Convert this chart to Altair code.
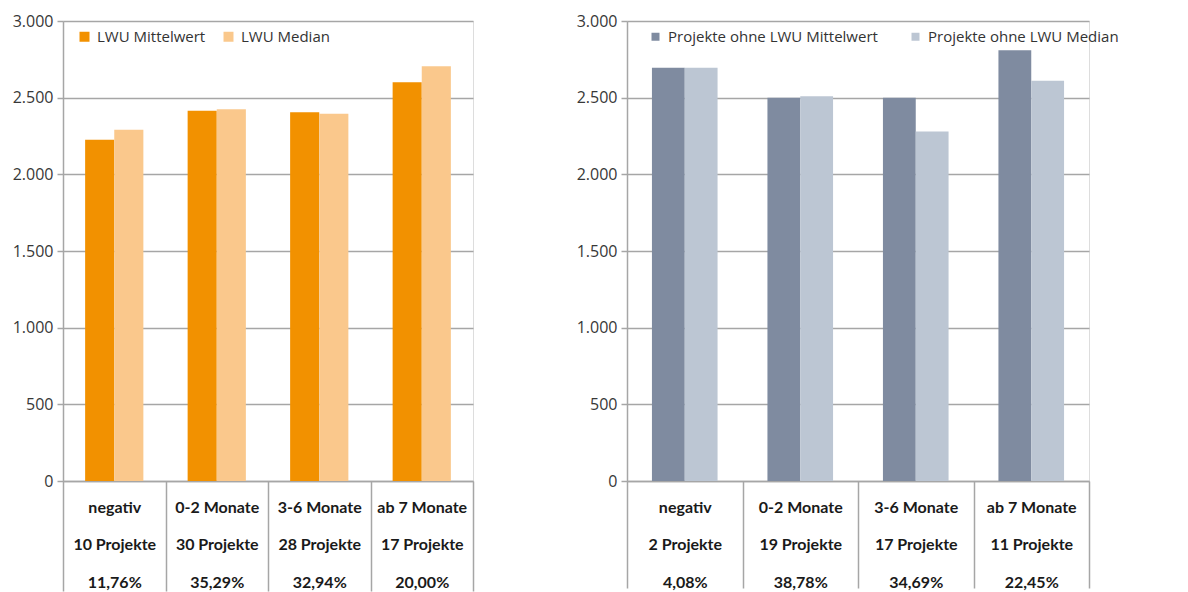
import altair as alt
import pandas as pd

# Kategorien der Projektdauer-Abweichung
kategorien = ["negativ", "0-2 Monate", "3-6 Monate", "ab 7 Monate"]

# Projekte mit LWU
lwu_projekte = ["10 Projekte", "30 Projekte", "28 Projekte", "17 Projekte"]
lwu_anteile = ["11,76%", "35,29%", "32,94%", "20,00%"]
lwu_mittelwert = [2225, 2415, 2405, 2600]
lwu_median = [2290, 2425, 2395, 2705]

# Projekte ohne LWU
ohne_projekte = ["2 Projekte", "19 Projekte", "17 Projekte", "11 Projekte"]
ohne_anteile = ["4,08%", "38,78%", "34,69%", "22,45%"]
ohne_mittelwert = [2695, 2500, 2500, 2810]
ohne_median = [2695, 2510, 2280, 2610]

y_ticks = [0, 500, 1000, 1500, 2000, 2500, 3000]

GRAU = "#A6A6A6"


def panel(projekte, anteile, mittel, median, namen, farben, breite, hoehe,
          leg_x, leg_y, leg_pad, sym_size, tick_len):
    gruppen = [f"{k}|{p}|{a}" for k, p, a in zip(kategorien, projekte, anteile)]
    zeilen = []
    for g, m, md in zip(gruppen, mittel, median):
        zeilen.append({"gruppe": g, "reihe": namen[0], "wert": m})
        zeilen.append({"gruppe": g, "reihe": namen[1], "wert": md})
    df = pd.DataFrame(zeilen)

    return alt.Chart(df).mark_bar().encode(
        x=alt.X(
            "gruppe:N",
            sort=gruppen,
            title=None,
            scale=alt.Scale(paddingInner=0, paddingOuter=0),
            axis=alt.Axis(
                labelExpr="split(datum.label, '|')",
                labelAngle=0,
                labelAlign="center",
                labelBaseline="top",
                labelFont="Lato",
                labelFontWeight="bold",
                labelFontSize=16,
                labelColor="#1a1a1a",
                labelLineHeight=37.5,
                labelPadding=18 - tick_len,
                tickBand="extent",
                tickSize=tick_len,
                tickColor=GRAU,
                tickWidth=1.5,
                domainColor=GRAU,
                domainWidth=1.5,
                grid=False,
            ),
        ),
        xOffset=alt.XOffset(
            "reihe:N",
            sort=namen,
            scale=alt.Scale(paddingInner=0, paddingOuter=0.76),
        ),
        y=alt.Y(
            "wert:Q",
            title=None,
            scale=alt.Scale(domain=[0, 3000], nice=False),
            axis=alt.Axis(
                values=y_ticks,
                labelExpr="replace(format(datum.value, ','), ',', '.')",
                labelFont="Open Sans",
                labelFontSize=16,
                labelColor="#383838",
                labelPadding=4,
                tickSize=6,
                tickColor=GRAU,
                tickWidth=1.5,
                domainColor=GRAU,
                domainWidth=1.5,
                gridColor=GRAU,
                gridWidth=1.5,
            ),
        ),
        color=alt.Color(
            "reihe:N",
            sort=namen,
            scale=alt.Scale(domain=namen, range=farben),
            legend=alt.Legend(
                title=None,
                orient="none",
                legendX=leg_x,
                legendY=leg_y,
                direction="horizontal",
                symbolType="square",
                symbolSize=sym_size,
                symbolStrokeWidth=0,
                labelFont="Open Sans",
                labelFontSize=15,
                labelColor="#333333",
                labelOffset=5,
                labelLimit=400,
                columnPadding=leg_pad,
            ),
        ),
    ).properties(width=breite, height=hoehe)


links = panel(
    lwu_projekte, lwu_anteile, lwu_mittelwert, lwu_median,
    ["LWU Mittelwert", "LWU Median"], ["#F29100", "#FAC88C"],
    410, 460, 14, 8, 15, 100, 110,
)

rechts = panel(
    ohne_projekte, ohne_anteile, ohne_mittelwert, ohne_median,
    ["Projekte ohne LWU Mittelwert", "Projekte ohne LWU Median"],
    ["#7F8BA0", "#BCC6D3"],
    462, 460, 21, 8, 30, 64, 107,
)

chart = alt.hconcat(links, rechts, spacing=100).resolve_scale(
    color="independent", x="independent", y="independent", xOffset="independent"
).resolve_legend(color="independent").properties(
    padding={"left": 11, "top": 12, "right": 0, "bottom": 0}
).configure_view(strokeWidth=0).configure(background="white")

chart.save("out.html", embed_options={"renderer": "svg", "actions": False})
